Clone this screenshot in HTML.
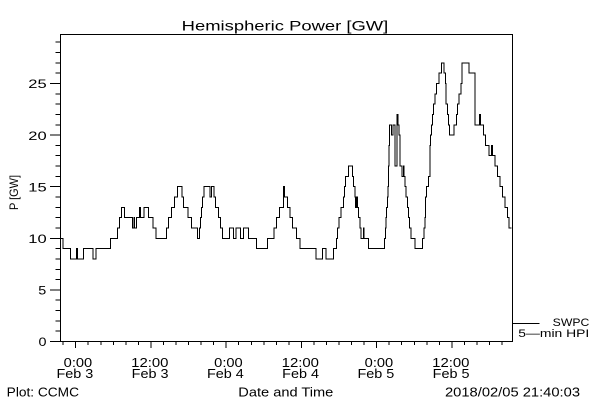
<!DOCTYPE html>
<html>
<head>
<meta charset="utf-8">
<style>
html, body { margin:0; padding:0; background:#fff; }
body { width:600px; height:400px; overflow:hidden; }
svg { display:block; }
text { font-family:"Liberation Sans", sans-serif; fill:#000; }
</style>
</head>
<body>
<svg width="600" height="400" viewBox="0 0 600 400" xmlns="http://www.w3.org/2000/svg">
<rect x="0" y="0" width="600" height="400" fill="#fff"/>
<text x="181.7" y="30.7" font-size="14" textLength="206.6" lengthAdjust="spacingAndGlyphs">Hemispheric Power [GW]</text>
<rect x="60.5" y="34.5" width="452" height="307" fill="none" stroke="#000" stroke-width="1" shape-rendering="crispEdges"/>
<g stroke="#000" stroke-width="1" shape-rendering="crispEdges">
<line x1="50" y1="341.5" x2="60.5" y2="341.5"/>
<line x1="50" y1="289.9" x2="60.5" y2="289.9"/>
<line x1="50" y1="238.3" x2="60.5" y2="238.3"/>
<line x1="50" y1="186.7" x2="60.5" y2="186.7"/>
<line x1="50" y1="135.1" x2="60.5" y2="135.1"/>
<line x1="50" y1="83.5" x2="60.5" y2="83.5"/>
<line x1="55.5" y1="331.2" x2="60.5" y2="331.2"/>
<line x1="55.5" y1="320.9" x2="60.5" y2="320.9"/>
<line x1="55.5" y1="310.5" x2="60.5" y2="310.5"/>
<line x1="55.5" y1="300.2" x2="60.5" y2="300.2"/>
<line x1="55.5" y1="279.6" x2="60.5" y2="279.6"/>
<line x1="55.5" y1="269.3" x2="60.5" y2="269.3"/>
<line x1="55.5" y1="258.9" x2="60.5" y2="258.9"/>
<line x1="55.5" y1="248.6" x2="60.5" y2="248.6"/>
<line x1="55.5" y1="228.0" x2="60.5" y2="228.0"/>
<line x1="55.5" y1="217.7" x2="60.5" y2="217.7"/>
<line x1="55.5" y1="207.3" x2="60.5" y2="207.3"/>
<line x1="55.5" y1="197.0" x2="60.5" y2="197.0"/>
<line x1="55.5" y1="176.4" x2="60.5" y2="176.4"/>
<line x1="55.5" y1="166.1" x2="60.5" y2="166.1"/>
<line x1="55.5" y1="155.7" x2="60.5" y2="155.7"/>
<line x1="55.5" y1="145.4" x2="60.5" y2="145.4"/>
<line x1="55.5" y1="124.8" x2="60.5" y2="124.8"/>
<line x1="55.5" y1="114.5" x2="60.5" y2="114.5"/>
<line x1="55.5" y1="104.1" x2="60.5" y2="104.1"/>
<line x1="55.5" y1="93.8" x2="60.5" y2="93.8"/>
<line x1="55.5" y1="73.2" x2="60.5" y2="73.2"/>
<line x1="55.5" y1="62.9" x2="60.5" y2="62.9"/>
<line x1="55.5" y1="52.5" x2="60.5" y2="52.5"/>
<line x1="55.5" y1="42.2" x2="60.5" y2="42.2"/>
</g>
<g font-size="12">
<text x="28.3" y="88" textLength="18.4" lengthAdjust="spacingAndGlyphs">25</text>
<text x="28.3" y="139.8" textLength="18.4" lengthAdjust="spacingAndGlyphs">20</text>
<text x="28.3" y="191.5" textLength="18.4" lengthAdjust="spacingAndGlyphs">15</text>
<text x="28.3" y="243" textLength="18.4" lengthAdjust="spacingAndGlyphs">10</text>
<text x="38.3" y="294.5" textLength="8" lengthAdjust="spacingAndGlyphs">5</text>
<text x="38.5" y="346" textLength="8" lengthAdjust="spacingAndGlyphs">0</text>
</g>
<text transform="translate(18,210) rotate(-90)" x="0" y="0" font-size="12" textLength="35" lengthAdjust="spacingAndGlyphs">P [GW]</text>
<g stroke="#000" stroke-width="1" shape-rendering="crispEdges">
<line x1="75.7" y1="341.5" x2="75.7" y2="348"/>
<line x1="150.94" y1="341.5" x2="150.94" y2="348"/>
<line x1="226.18" y1="341.5" x2="226.18" y2="348"/>
<line x1="301.42" y1="341.5" x2="301.42" y2="348"/>
<line x1="376.66" y1="341.5" x2="376.66" y2="348"/>
<line x1="451.9" y1="341.5" x2="451.9" y2="348"/>
<line x1="63.16" y1="341.5" x2="63.16" y2="345"/>
<line x1="88.24" y1="341.5" x2="88.24" y2="345"/>
<line x1="100.78" y1="341.5" x2="100.78" y2="345"/>
<line x1="113.32" y1="341.5" x2="113.32" y2="345"/>
<line x1="125.86" y1="341.5" x2="125.86" y2="345"/>
<line x1="138.4" y1="341.5" x2="138.4" y2="345"/>
<line x1="163.48" y1="341.5" x2="163.48" y2="345"/>
<line x1="176.02" y1="341.5" x2="176.02" y2="345"/>
<line x1="188.56" y1="341.5" x2="188.56" y2="345"/>
<line x1="201.1" y1="341.5" x2="201.1" y2="345"/>
<line x1="213.64" y1="341.5" x2="213.64" y2="345"/>
<line x1="238.72" y1="341.5" x2="238.72" y2="345"/>
<line x1="251.26" y1="341.5" x2="251.26" y2="345"/>
<line x1="263.8" y1="341.5" x2="263.8" y2="345"/>
<line x1="276.34" y1="341.5" x2="276.34" y2="345"/>
<line x1="288.88" y1="341.5" x2="288.88" y2="345"/>
<line x1="313.96" y1="341.5" x2="313.96" y2="345"/>
<line x1="326.5" y1="341.5" x2="326.5" y2="345"/>
<line x1="339.04" y1="341.5" x2="339.04" y2="345"/>
<line x1="351.58" y1="341.5" x2="351.58" y2="345"/>
<line x1="364.12" y1="341.5" x2="364.12" y2="345"/>
<line x1="389.2" y1="341.5" x2="389.2" y2="345"/>
<line x1="401.74" y1="341.5" x2="401.74" y2="345"/>
<line x1="414.28" y1="341.5" x2="414.28" y2="345"/>
<line x1="426.82" y1="341.5" x2="426.82" y2="345"/>
<line x1="439.36" y1="341.5" x2="439.36" y2="345"/>
<line x1="464.44" y1="341.5" x2="464.44" y2="345"/>
<line x1="476.98" y1="341.5" x2="476.98" y2="345"/>
<line x1="489.52" y1="341.5" x2="489.52" y2="345"/>
<line x1="502.06" y1="341.5" x2="502.06" y2="345"/>
</g>
<g font-size="13">
<text x="63.7" y="367" textLength="28.5" lengthAdjust="spacingAndGlyphs">0:00</text>
<text x="56.5" y="378" textLength="36.8" lengthAdjust="spacingAndGlyphs">Feb 3</text>
<text x="131.2" y="367" textLength="37.3" lengthAdjust="spacingAndGlyphs">12:00</text>
<text x="131.7" y="378" textLength="36.8" lengthAdjust="spacingAndGlyphs">Feb 3</text>
<text x="214.2" y="367" textLength="28.5" lengthAdjust="spacingAndGlyphs">0:00</text>
<text x="207" y="378" textLength="36.8" lengthAdjust="spacingAndGlyphs">Feb 4</text>
<text x="281.7" y="367" textLength="37.3" lengthAdjust="spacingAndGlyphs">12:00</text>
<text x="282.2" y="378" textLength="36.8" lengthAdjust="spacingAndGlyphs">Feb 4</text>
<text x="364.7" y="367" textLength="28.5" lengthAdjust="spacingAndGlyphs">0:00</text>
<text x="357.5" y="378" textLength="36.8" lengthAdjust="spacingAndGlyphs">Feb 5</text>
<text x="432.2" y="367" textLength="37.3" lengthAdjust="spacingAndGlyphs">12:00</text>
<text x="432.7" y="378" textLength="36.8" lengthAdjust="spacingAndGlyphs">Feb 5</text>
<text x="6.7" y="396.5" textLength="72.3" lengthAdjust="spacingAndGlyphs">Plot: CCMC</text>
<text x="238.3" y="396.5" textLength="95" lengthAdjust="spacingAndGlyphs">Date and Time</text>
<text x="445" y="396.5" textLength="135" lengthAdjust="spacingAndGlyphs">2018/02/05 21:40:03</text>
</g>
<line x1="512.5" y1="323.5" x2="539.3" y2="323.5" stroke="#000" stroke-width="1" shape-rendering="crispEdges"/>
<g font-size="11">
<text x="552.7" y="326" textLength="36.6" lengthAdjust="spacingAndGlyphs">SWPC</text>
<text x="518.3" y="337" textLength="71" lengthAdjust="spacingAndGlyphs">5—min HPI</text>
</g>
<path fill="none" stroke="#000" stroke-width="1" shape-rendering="crispEdges" d="M60.5 238.3 H63 V248.6 H70.7 V258.9 H76.3 V248.6 H77.3 V258.9 H83.5 V248.6 H93 V258.9 H96 V248.6 H110.5 V238.3 H117.3 V228 H119.7 V217.7 H121.7 V207.3 H124.3 V217.7 H132.5 V228 H134 V217.7 H134.7 V228 H136.3 V217.7 H139.3 V207.3 H140.3 V217.7 H143.8 V207.3 H148.5 V217.7 H152.8 V228 H155.8 V238.3 H166.3 V228 H168.7 V217.7 H171.3 V207.3 H174.5 V197 H177.3 V186.7 H182 V197 H183.7 V207.3 H188 V217.7 H191.3 V228 H197.3 V238.3 H199.7 V228 H200.7 V217.7 H201.7 V207.3 H202.7 V197 H204 V186.7 H210 V197 H211.7 V186.7 H214 V197 H215.7 V207.3 H218.3 V217.7 H220.7 V228 H222.7 V238.3 H229.3 V228 H233.3 V238.3 H236 V228 H240.7 V238.3 H243.3 V228 H248.3 V238.3 H256.7 V248.6 H267.7 V238.3 H274 V228 H276.7 V217.7 H279.3 V207.3 H283.5 V186.7 H284.5 V197 H287.3 V207.3 H290 V217.7 H292.7 V228 H296.7 V238.3 H300 V248.6 H316 V258.9 H322.7 V248.6 H326 V258.9 H333.3 V248.6 H336.7 V238.3 H337.7 V228 H339 V217.7 H341 V207.3 H343.3 V197 H344.5 V186.7 H345.7 V176.4 H348.3 V166.1 H352.3 V176.4 H353.3 V186.7 H355 V197 H355.7 V207.3 H356.3 V197 H357.3 V207.3 H358.3 V217.7 H360 V228 H361 V238.3 H363.3 V228 H364 V238.3 H368.3 V248.6 H384.3 V238.3 H385.3 V228 H386 V217.7 H386.7 V207.3 H387.3 V197 H388 V186.7 H388.5 V166.1 H389 V145.4 H389.7 V124.8 H391.3 V135.1 H393 V124.8 H395 V166.1 H396.8 V114.5 H397.8 V124.8 H398.8 V135.1 H400 V166.1 H402 V176.4 H403.3 V166.1 H404 V176.4 H405 V186.7 H406 V197 H407.3 V207.3 H408.3 V217.7 H409.3 V228 H411 V238.3 H415 V248.6 H422.3 V238.3 H424 V228 H425 V217.7 H425.7 V197 H426.7 V186.7 H428.3 V176.4 H430 V145.4 H430.7 V135.1 H431.3 V124.8 H432.3 V114.5 H433.5 V104.1 H435.2 V93.8 H436.5 V83.5 H439 V73.2 H441.7 V62.9 H444 V73.2 H445.5 V83.5 H446 V104.1 H447.3 V114.5 H448.3 V124.8 H449.3 V135.1 H454 V124.8 H456.7 V114.5 H457.7 V104.1 H459 V93.8 H461 V83.5 H462 V62.9 H469 V73.2 H475 V124.8 H479.3 V114.5 H480.3 V124.8 H483.3 V135.1 H485.7 V145.4 H489 V155.7 H491.7 V145.4 H492.7 V155.7 H495 V166.1 H497.7 V176.4 H500 V186.7 H502.3 V197 H505 V207.3 H507.7 V217.7 H509 V228 H511.5"/>
</svg>
</body>
</html>
